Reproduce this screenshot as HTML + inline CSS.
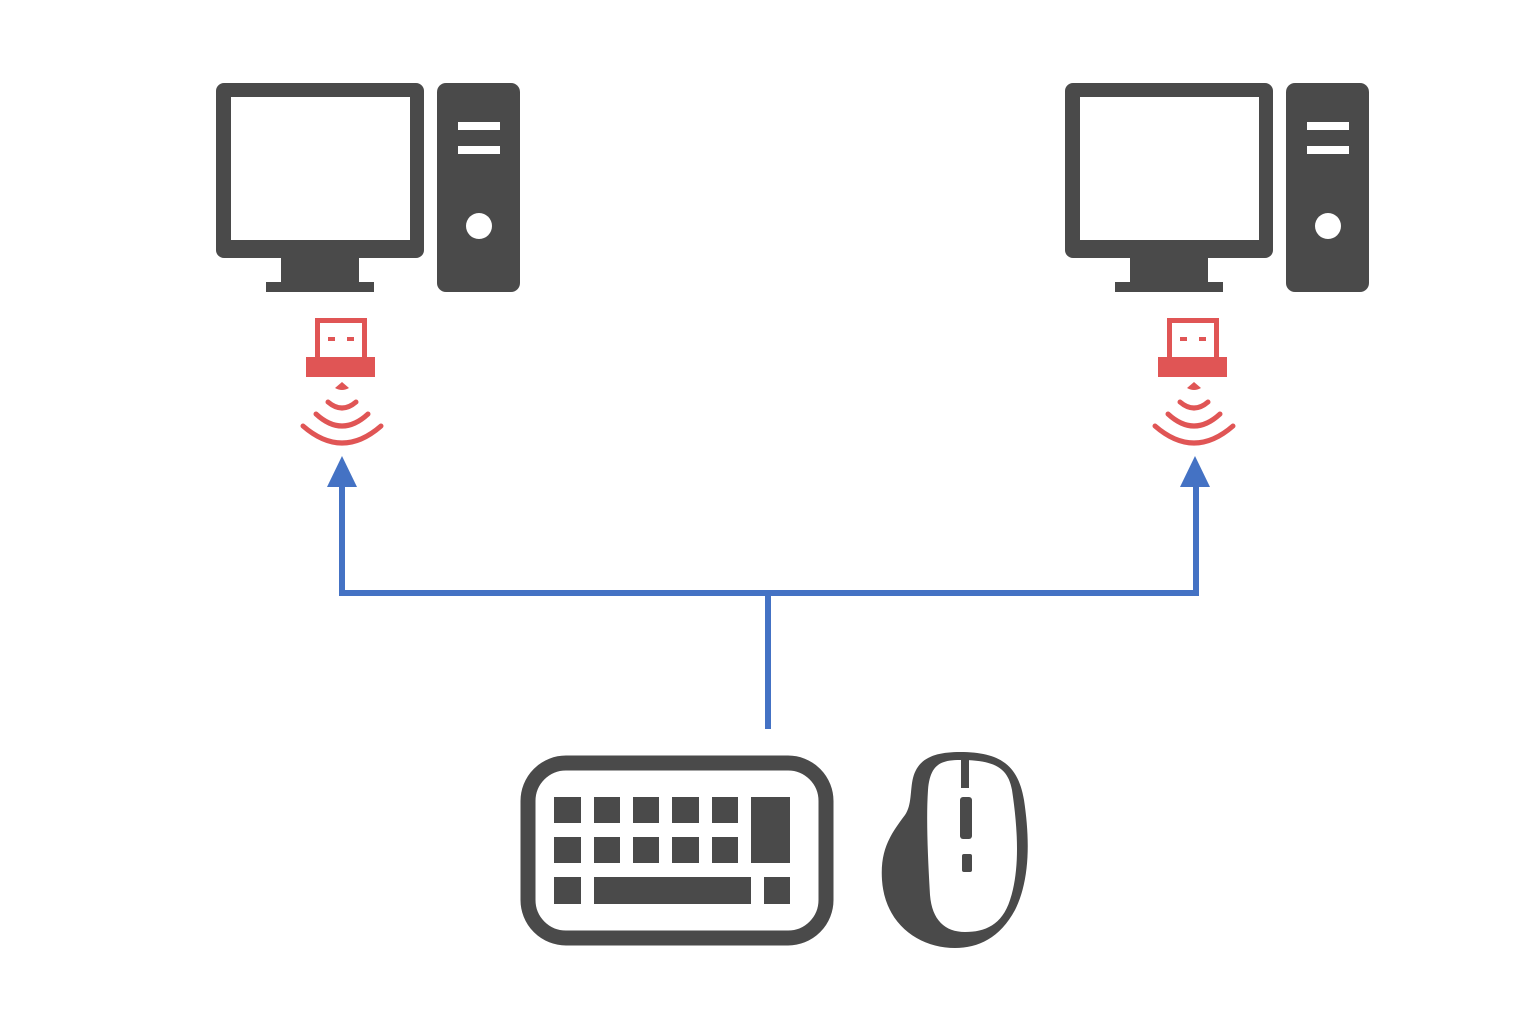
<!DOCTYPE html>
<html><head><style>html,body{margin:0;padding:0;background:#fff}</style></head><body>
<svg width="1536" height="1024" viewBox="0 0 1536 1024" xmlns="http://www.w3.org/2000/svg">
<defs>
<g id="pc" fill="#4a4a4a">
  <rect x="216" y="83" width="208" height="175" rx="8"/>
  <rect x="231" y="97" width="179" height="143" fill="#fff"/>
  <rect x="281" y="256" width="78" height="28"/>
  <rect x="266" y="282" width="108" height="10"/>
  <rect x="437" y="83" width="83" height="209" rx="9"/>
  <rect x="458" y="122" width="42" height="8" fill="#fff"/>
  <rect x="458" y="146" width="42" height="8" fill="#fff"/>
  <circle cx="479" cy="226" r="13" fill="#fff"/>
</g>
<g id="usb">
  <rect x="317.5" y="320.5" width="47" height="40" fill="none" stroke="#e05555" stroke-width="5"/>
  <rect x="328" y="337" width="7" height="4" fill="#e05555"/>
  <rect x="347" y="337" width="7" height="4" fill="#e05555"/>
  <rect x="306" y="357" width="69" height="20" fill="#e05555"/>
  <path d="M335 388 L342 382 L349 388 Q342 392 335 388Z" fill="#e05555"/>
  <g fill="none" stroke="#e05555" stroke-width="5" stroke-linecap="round">
    <path d="M328 402 Q342 414 356 402"/>
    <path d="M316 414 Q342 438 368 414"/>
    <path d="M303 426 Q342 460 381 426"/>
  </g>
</g>
</defs>
<use href="#pc"/>
<use href="#pc" transform="translate(849,0)"/>
<use href="#usb"/>
<use href="#usb" transform="translate(852,0)"/>
<g fill="none" stroke="#4472c4" stroke-width="6">
  <path d="M342 484 V593 H1196 V484"/>
  <path d="M768 593 V729"/>
</g>
<path d="M342 456 L327 487 L357 487Z" fill="#4472c4"/>
<path d="M1195 456 L1180 487 L1210 487Z" fill="#4472c4"/>
<g fill="#4a4a4a">
  <rect x="528" y="763" width="298" height="175" rx="38" fill="none" stroke="#4a4a4a" stroke-width="15"/>
  <rect x="554" y="797" width="27" height="26"/><rect x="594" y="797" width="26" height="26"/><rect x="633" y="797" width="26" height="26"/><rect x="672" y="797" width="27" height="26"/><rect x="712" y="797" width="26" height="26"/>
  <rect x="751" y="797" width="39" height="66"/>
  <rect x="554" y="837" width="27" height="26"/><rect x="594" y="837" width="26" height="26"/><rect x="633" y="837" width="26" height="26"/><rect x="672" y="837" width="27" height="26"/><rect x="712" y="837" width="26" height="26"/>
  <rect x="554" y="877" width="27" height="27"/><rect x="594" y="877" width="157" height="27"/><rect x="764" y="877" width="26" height="27"/>
  <path d="M960 752 C1000 752 1018 765 1024 800 C1030 840 1030 880 1015 910 C1000 938 978 948 955 948 C920 948 885 925 882 880 C880 850 890 835 905 815 C912 805 910 790 913 778 C918 758 935 752 960 752Z"/>
  <path d="M960 760 C995 760 1008 768 1012 790 C1018 830 1020 870 1010 900 C1002 925 985 932 965 932 C945 932 932 920 930 895 C928 860 926 820 928 790 C930 765 940 760 960 760Z" fill="#fff"/>
  <rect x="961" y="760" width="8" height="28"/>
  <rect x="960" y="797" width="12" height="42" rx="3"/>
  <rect x="962" y="854" width="10" height="18" rx="2"/>
</g>
</svg>
</body></html>
